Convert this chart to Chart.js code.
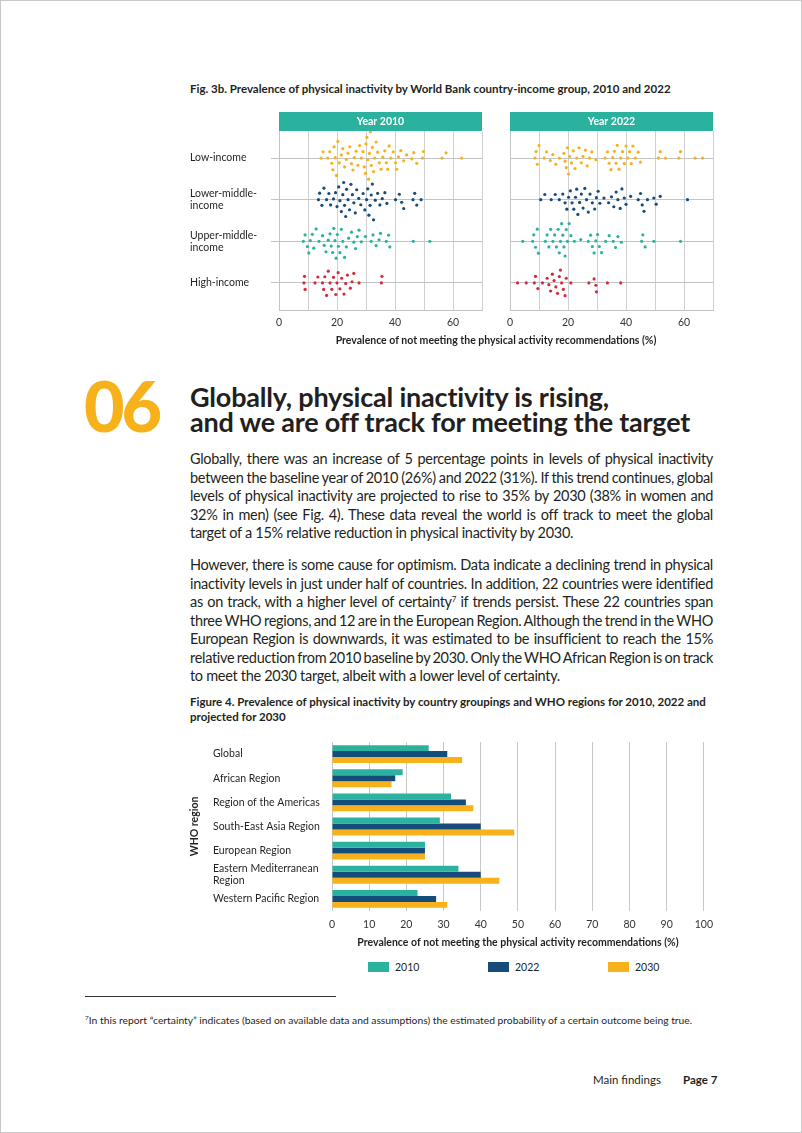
<!DOCTYPE html>
<html>
<head>
<meta charset="utf-8">
<script src="https://cdn.jsdelivr.net/npm/chart.js@4.4.1/dist/chart.umd.min.js"></script>
<style>
  body { margin: 0; background: #fff; }
  #page { position: relative; width: 802px; height: 1133px; font-family: Lato, sans-serif; color: #231f20; overflow: hidden; }
  #frame { position: absolute; left: 0; top: 0; width: 800px; height: 1131px; border: 1px solid #c9c9c9; }
  .abs { position: absolute; }
  .figtitle { font-size: 11.5px; font-weight: bold; line-height: 15px; }
  .num06 { left: 84px; top: 370px; font-size: 70px; line-height: 70px; font-weight: 900; color: #f7b11b; letter-spacing: -3px; }
  .heading { left: 190px; top: 384px; font-size: 27px; line-height: 25px; font-weight: bold; letter-spacing: -0.2px; }
  .para { left: 190px; width: 523px; font-size: 14.5px; line-height: 18.5px; letter-spacing: -0.3px; }
  .para .ln { white-space: nowrap; }
  sup { font-size: 8px; line-height: 0; vertical-align: 5px; }
  .axistitle { font-size: 10.5px; font-weight: bold; line-height: 14px; text-align: center; }
  .legend { top: 961px; height: 12px; font-size: 10.5px; line-height: 12px; }
  .legend i { position: absolute; top: 1px; width: 21px; height: 10px; }
  .legend span { position: absolute; left: 27px; top: 0; }
  canvas { position: absolute; }
</style>
</head>
<body>
<div id="page">
  <div id="frame"></div>

  <div class="abs figtitle" style="left:190px; top:81px;">Fig. 3b. Prevalence of physical inactivity by World Bank country-income group, 2010 and 2022</div>
  <canvas id="panel2010" width="315" height="230" style="left:180px; top:105px;"></canvas>
  <canvas id="panel2022" width="220" height="230" style="left:500px; top:105px;"></canvas>
  <div class="abs axistitle" style="left:296px; top:333px; width:400px;">Prevalence of not meeting the physical activity recommendations (%)</div>

  <div class="abs num06">06</div>
  <div class="abs heading">Globally, physical inactivity is rising,<br>and we are off track for meeting the target</div>

  <div class="abs para" style="top:450px;">
    <div class="ln"><span>Globally, there was an increase of 5 percentage points in levels of physical inactivity</span></div>
    <div class="ln"><span>between the baseline year of 2010 (26%) and 2022 (31%). If this trend continues, global</span></div>
    <div class="ln"><span>levels of physical inactivity are projected to rise to 35% by 2030 (38% in women and</span></div>
    <div class="ln"><span>32% in men) (see Fig. 4). These data reveal the world is off track to meet the global</span></div>
    <div class="ln last"><span>target of a 15% relative reduction in physical inactivity by 2030.</span></div>
  </div>

  <div class="abs para" style="top:556px;">
    <div class="ln"><span>However, there is some cause for optimism. Data indicate a declining trend in physical</span></div>
    <div class="ln"><span>inactivity levels in just under half of countries. In addition, 22 countries were identified</span></div>
    <div class="ln"><span>as on track, with a higher level of certainty<sup>7</sup> if trends persist. These 22 countries span</span></div>
    <div class="ln"><span>three WHO regions, and 12 are in the European Region. Although the trend in the WHO</span></div>
    <div class="ln"><span>European Region is downwards, it was estimated to be insufficient to reach the 15%</span></div>
    <div class="ln"><span>relative reduction from 2010 baseline by 2030. Only the WHO African Region is on track</span></div>
    <div class="ln last"><span>to meet the 2030 target, albeit with a lower level of certainty.</span></div>
  </div>

  <div class="abs figtitle" style="left:190px; top:694px;">Figure 4. Prevalence of physical inactivity by country groupings and WHO regions for 2010, 2022 and<br>projected for 2030</div>
  <canvas id="regions" width="535" height="218" style="left:185px; top:733px;"></canvas>
  <div id="legend"></div>

  <div class="abs" style="left:85px; top:996px; width:251px; height:1px; background:#333;"></div>
  <div class="abs" style="left:85px; top:1013px; font-size:10.3px; line-height:14px;"><sup style="font-size:6.5px; vertical-align:4px;">7</sup>In this report “certainty” indicates (based on available data and assumptions) the estimated probability of a certain outcome being true.</div>

  <div class="abs" style="left:593px; top:1072px; font-size:11.5px; line-height:16px;">Main findings</div>
  <div class="abs" style="left:683px; top:1072px; font-size:11.5px; line-height:16px; font-weight:bold;">Page 7</div>
</div>

<script>
// ---- Fig. 3b: country values per income group (% not meeting recommendations)
const incomeGroups = ['Low-income', 'Lower-middle-income', 'Upper-middle-income', 'High-income'];
const incomeTickLabels = [['Low-income'], ['Lower-middle-', 'income'], ['Upper-middle-', 'income'], ['High-income']];
const panelTitles = ['Year 2010', 'Year 2022'];
const incomeTickValues = [0, 20, 40, 60];

const low2010 = [14.5, 15.2, 16.8, 17.5, 18.2, 18.6, 19.0, 19.4, 19.8, 20.3, 20.8, 21.5, 22.0, 22.6, 23.2, 23.8, 24.4, 25.0, 25.5, 26.0, 26.6, 27.2, 27.8, 28.4, 29.0, 29.4, 29.8, 30.0, 30.3, 30.6, 30.9, 31.2, 31.5, 31.8, 32.2, 32.6, 33.0, 33.5, 34.0, 34.6, 35.2, 35.8, 36.5, 37.0, 37.5, 38.0, 38.6, 39.4, 40.2, 40.6, 41.2, 42.0, 43.0, 44.0, 45.8, 46.5, 47.5, 49.5, 49.8, 56.2, 57.6, 63.0];
const lowMid2010 = [13.6, 14.0, 14.8, 15.5, 16.4, 17.2, 17.8, 18.8, 19.5, 20.0, 20.6, 21.0, 21.5, 22.0, 22.3, 22.6, 23.0, 23.3, 23.8, 24.3, 24.8, 25.3, 25.8, 26.3, 26.8, 27.5, 28.2, 29.0, 29.6, 30.2, 30.6, 31.0, 31.4, 31.8, 32.2, 32.6, 33.2, 34.0, 34.8, 35.6, 36.5, 37.2, 40.2, 41.5, 42.3, 43.0, 46.2, 46.8, 47.5, 49.0];
const upMid2010 = [8.4, 9.0, 9.8, 10.3, 10.8, 11.5, 12.0, 12.8, 13.8, 15.0, 15.6, 16.2, 17.0, 17.6, 18.0, 18.5, 18.9, 19.3, 19.7, 20.1, 20.5, 21.0, 21.5, 22.0, 22.6, 23.2, 24.0, 25.0, 25.8, 26.4, 27.0, 27.6, 28.4, 29.8, 31.8, 32.4, 33.5, 34.5, 35.0, 37.0, 37.8, 38.2, 46.3, 52.0];
const high2010 = [8.6, 8.8, 9.0, 12.4, 13.4, 15.0, 15.4, 15.8, 16.4, 17.0, 17.6, 18.2, 18.8, 19.6, 20.0, 20.4, 21.0, 21.6, 22.4, 23.0, 23.6, 24.6, 25.2, 25.8, 27.6, 35.3, 35.5];

const low2022 = [8.6, 9.0, 9.4, 10.0, 11.8, 12.6, 13.9, 14.8, 15.8, 17.0, 18.6, 19.0, 19.4, 19.8, 20.2, 20.6, 21.2, 21.8, 22.4, 23.0, 23.8, 24.6, 25.2, 26.0, 26.6, 27.4, 28.2, 29.6, 32.8, 33.6, 34.2, 34.8, 35.4, 36.0, 36.6, 37.0, 37.6, 38.2, 38.8, 39.4, 40.0, 40.6, 41.2, 41.8, 42.4, 43.2, 44.2, 45.0, 51.2, 51.8, 53.6, 58.2, 58.8, 63.8, 66.4];
const lowMid2022 = [10.6, 12.0, 14.2, 15.6, 17.0, 18.2, 19.0, 19.6, 20.2, 20.8, 21.4, 22.0, 22.6, 23.0, 23.4, 24.0, 24.6, 25.2, 25.8, 26.4, 27.0, 27.6, 28.4, 29.2, 29.8, 30.4, 31.0, 32.4, 34.0, 35.0, 35.8, 36.6, 37.2, 38.0, 38.6, 39.4, 40.0, 41.6, 44.2, 45.0, 45.6, 46.2, 47.4, 49.6, 50.4, 51.8, 61.2];
const upMid2022 = [4.4, 7.8, 8.2, 8.8, 9.4, 9.8, 12.2, 12.8, 13.4, 14.0, 14.8, 15.4, 16.0, 16.6, 17.0, 17.4, 17.8, 18.2, 18.6, 19.0, 19.4, 19.8, 20.4, 21.0, 22.2, 24.4, 27.0, 27.8, 28.4, 29.0, 29.6, 30.2, 30.8, 31.6, 33.0, 34.2, 35.6, 36.4, 37.2, 38.4, 45.4, 45.8, 46.6, 49.6, 58.8];
const high2022 = [2.6, 5.6, 8.4, 8.8, 9.6, 11.2, 12.8, 13.4, 14.0, 14.6, 15.2, 15.8, 16.4, 17.0, 17.4, 17.8, 18.4, 19.0, 19.4, 21.0, 27.2, 29.0, 29.6, 29.8, 33.6, 38.2];

// ---- Figure 4: WHO regions
const regions = ['Global', 'African Region', 'Region of the Americas', 'South-East Asia Region', 'European Region', 'Eastern Mediterranean Region', 'Western Pacific Region'];
const regionTickLabels = ['Global', 'African Region', 'Region of the Americas', 'South-East Asia Region', 'European Region', ['Eastern Mediterranean', 'Region'], 'Western Pacific Region'];
const seriesYears = ['2010', '2022', '2030'];
const share2010 = [26, 19, 32, 29, 25, 34, 23];
const share2022 = [31, 17, 36, 40, 25, 40, 28];
const share2030 = [35, 16, 38, 49, 25, 45, 31];

const TEAL = '#2bb29f';
const NAVY = '#164c79';
const YELLOW = '#f7b11b';
const RED = '#d52a3b';
const groupColors = [YELLOW, NAVY, TEAL, RED];

Chart.defaults.font.family = 'Lato, sans-serif';
Chart.defaults.color = '#231f20';

// beeswarm layout: push each dot off its row line just far enough to clear its neighbours
const PX_PER_UNIT = 2.9;
const PX_PER_ROW = 41.6;
const GAP = 6.6;
function swarm(values, row) {
  const placed = [];
  values.slice().sort((a, b) => a - b).forEach(v => {
    const x = v * PX_PER_UNIT;
    const near = placed.filter(p => Math.abs(p.x - x) < GAP);
    const candidates = [0];
    near.forEach(p => {
      const dy = Math.sqrt(GAP * GAP - (p.x - x) * (p.x - x));
      candidates.push(p.y + dy, p.y - dy);
    });
    candidates.sort((a, b) => Math.abs(a) - Math.abs(b) || b - a);
    let y = candidates.find(c => near.every(p => (p.x - x) ** 2 + (p.y - c) ** 2 >= GAP * GAP - 0.01));
    if (y === undefined) y = candidates[candidates.length - 1];
    placed.push({ x, y, v });
  });
  return placed.map(p => ({ x: p.v, y: row + p.y / PX_PER_ROW }));
}

const panelHeader = {
  id: 'panelHeader',
  afterDraw(chart, args, opts) {
    const { ctx, chartArea: a } = chart;
    ctx.save();
    ctx.fillStyle = TEAL;
    ctx.fillRect(a.left, a.top - 19, a.right - a.left, 19);
    ctx.fillStyle = '#fff';
    ctx.font = 'bold 10.5px Lato, sans-serif';
    ctx.textAlign = 'center';
    ctx.textBaseline = 'middle';
    ctx.fillText(opts.text, (a.left + a.right) / 2, a.top - 9.5);
    ctx.restore();
  }
};

function makePanel(id, title, groups, showLabels) {
  const datasets = groups.map((vals, i) => ({
    label: incomeGroups[i],
    data: swarm(vals, 3 - i),
    backgroundColor: groupColors[i],
    pointRadius: 1.6,
    pointBorderWidth: 0
  }));
  return new Chart(document.getElementById(id), {
    type: 'scatter',
    data: { datasets: datasets },
    plugins: [panelHeader],
    options: {
      responsive: false,
      animation: false,
      layout: { padding: { top: 26, left: 10, right: showLabels ? 13 : 7, bottom: 0 } },
      plugins: { legend: { display: false }, tooltip: { enabled: false }, panelHeader: { text: title } },
      scales: {
        x: {
          type: 'linear', min: 0, max: 70,
          ticks: { stepSize: 10, padding: 6, autoSkip: false, maxRotation: 0, font: { size: 10.5 }, color: '#333',
                   callback: v => incomeTickValues.includes(v) ? v : '' },
          grid: { color: '#d0d0d0', drawTicks: false },
          border: { color: '#c4c4c4' },
          afterFit: s => { s.height = 25; }
        },
        y: {
          type: 'linear', min: -0.65, max: 3.65,
          afterBuildTicks: s => { s.ticks = [0, 1, 2, 3].map(v => ({ value: v })); },
          ticks: { display: showLabels, crossAlign: 'far', font: { size: 10.5, lineHeight: 1.15 },
                   callback: v => incomeTickLabels[3 - v] },
          grid: { color: '#c4c4c4', drawTicks: showLabels, tickLength: 8 },
          border: { color: '#c4c4c4' },
          afterFit: s => { s.width = showLabels ? 89 : 0; }
        }
      }
    }
  });
}

makePanel('panel2010', panelTitles[0], [low2010, lowMid2010, upMid2010, high2010], true);
makePanel('panel2022', panelTitles[1], [low2022, lowMid2022, upMid2022, high2022], false);

const regionSeries = [share2010, share2022, share2030];
const seriesColors = [TEAL, NAVY, YELLOW];

new Chart(document.getElementById('regions'), {
  type: 'bar',
  data: {
    labels: regionTickLabels,
    datasets: regionSeries.map((vals, i) => ({
      label: seriesYears[i],
      data: vals,
      backgroundColor: seriesColors[i],
      categoryPercentage: 0.74,
      barPercentage: 1.0
    }))
  },
  options: {
    indexAxis: 'y',
    responsive: false,
    animation: false,
    layout: { padding: { top: 9, right: 14, left: 0, bottom: 0 } },
    plugins: { legend: { display: false }, tooltip: { enabled: false } },
    scales: {
      x: {
        min: 0, max: 100,
        ticks: { stepSize: 10, padding: 7, font: { size: 10.5 }, color: '#333' },
        grid: { color: '#c8c8c8', drawTicks: false },
        border: { display: false },
        title: { display: true, text: 'Prevalence of not meeting the physical activity recommendations (%)',
                 font: { size: 10.5, weight: 'bold' }, padding: { top: 4, bottom: 2 } },
        afterFit: s => { s.height = 40; }
      },
      y: {
        ticks: { crossAlign: 'far', autoSkip: false, font: { size: 10.5, lineHeight: 1.1 } },
        grid: { display: false },
        border: { display: false },
        afterFit: s => { s.width = 119; }
      },
      yTitle: {
        type: 'category', axis: 'y', position: 'left', weight: 1,
        labels: regions,
        ticks: { display: false },
        grid: { display: false },
        border: { display: false },
        title: { display: true, text: 'WHO region', font: { size: 10.5, weight: 'bold' }, padding: { top: 3, bottom: 0 } },
        afterFit: s => { s.width = 28; }
      }
    }
  }
});

// legend for Figure 4
const legendLeft = [368, 488, 608];
document.getElementById('legend').innerHTML = seriesYears.map((yr, i) =>
  '<div class="abs legend" style="left:' + legendLeft[i] + 'px;"><i style="background:' + seriesColors[i] + '"></i><span>' + yr + '</span></div>'
).join('');

// justify the body text line by line
document.querySelectorAll('.para .ln:not(.last) span').forEach(span => {
  const gaps = (span.textContent.match(/ /g) || []).length;
  const w = span.getBoundingClientRect().width;
  if (gaps) span.style.wordSpacing = ((523 - w) / gaps) + 'px';
});
</script>
</body>
</html>
